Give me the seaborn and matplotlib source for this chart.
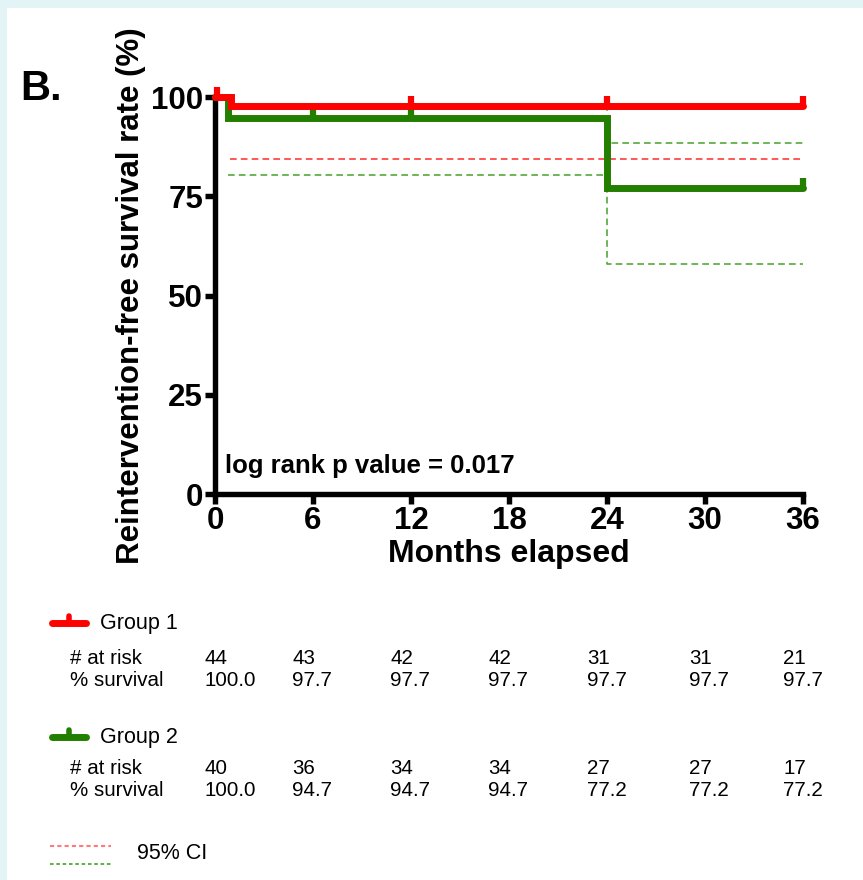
import numpy as np
import pandas as pd
import matplotlib
matplotlib.use("Agg")
import matplotlib.pyplot as plt
from matplotlib.patches import Rectangle
from matplotlib.lines import Line2D
import seaborn as sns

# ---------------- data ----------------
months_ticks = [0, 6, 12, 18, 24, 30, 36]
y_ticks = [0, 25, 50, 75, 100]

g1_time = [0, 1.0, 36]
g1_surv = [100.0, 97.7, 97.7]
g1_cens_t = [0.15, 12, 24, 36]
g1_cens_s = [100.0, 97.7, 97.7, 97.7]
g1_ci_time = [0.9, 36]
g1_ci_low = [84.5, 84.5]

g2_time = [0, 0.8, 24, 36]
g2_surv = [100.0, 94.7, 77.2, 77.2]
g2_cens_t = [6, 12, 36]
g2_cens_s = [94.7, 94.7, 77.2]
g2_ci_time = [0.8, 24, 36]
g2_ci_up = [98.3, 88.3, 88.3]
g2_ci_low = [80.4, 57.9, 57.9]

risk_cols = [0, 6, 12, 18, 24, 30, 36]
g1_at_risk = ["44", "43", "42", "42", "31", "31", "21"]
g1_pct = ["100.0", "97.7", "97.7", "97.7", "97.7", "97.7", "97.7"]
g2_at_risk = ["40", "36", "34", "34", "27", "27", "17"]
g2_pct = ["100.0", "94.7", "94.7", "94.7", "77.2", "77.2", "77.2"]

RED = "#ff0000"
GREEN = "#237f00"
RED_CI = "#ff3b3b"
GREEN_CI = "#55a83a"

sns.set_style("white")
plt.rcParams["font.family"] = ["Liberation Sans", "DejaVu Sans"]
plt.rcParams["text.color"] = "black"
plt.rcParams["axes.labelcolor"] = "black"
plt.rcParams["xtick.color"] = "black"
plt.rcParams["ytick.color"] = "black"

W, H = 863, 880
fig = plt.figure(figsize=(W / 100, H / 100), dpi=100)
fig.patch.set_facecolor("#e3f4f6")
fig.add_artist(Rectangle((7 / W, 0), 1 - 7 / W, 1 - 8 / H, transform=fig.transFigure,
                         facecolor="white", edgecolor="none", zorder=-10))

ax = fig.add_axes([215 / W, 1 - 494 / H, (803 - 215) / W, (494 - 97) / H])
ax.set_facecolor("none")

df1 = pd.DataFrame({"t": g1_time, "s": g1_surv})
df2 = pd.DataFrame({"t": g2_time, "s": g2_surv})
ci1 = pd.DataFrame({"t": g1_ci_time, "lo": g1_ci_low})
ci2 = pd.DataFrame({"t": g2_ci_time, "up": g2_ci_up, "lo": g2_ci_low})

# CI dashed lines
sns.lineplot(data=ci1, x="t", y="lo", ax=ax, color=RED_CI, lw=1.2, ls=(0, (4, 2.5)),
             drawstyle="steps-post", estimator=None, zorder=2)
sns.lineplot(data=ci2, x="t", y="up", ax=ax, color=GREEN_CI, lw=1.2, ls=(0, (4, 2.5)),
             drawstyle="steps-post", estimator=None, zorder=2)
sns.lineplot(data=ci2, x="t", y="lo", ax=ax, color=GREEN_CI, lw=1.2, ls=(0, (4, 2.5)),
             drawstyle="steps-post", estimator=None, zorder=2)

# survival curves
sns.lineplot(data=df2, x="t", y="s", ax=ax, color=GREEN, lw=5, drawstyle="steps-post",
             estimator=None, zorder=3, clip_on=False, solid_joinstyle="miter")
sns.lineplot(data=df1, x="t", y="s", ax=ax, color=RED, lw=5, drawstyle="steps-post",
             estimator=None, zorder=4, clip_on=False, solid_joinstyle="miter")

# censor ticks
ax.plot(g2_cens_t, g2_cens_s, ls="none", marker=2, ms=7, mew=4.5, color=GREEN, zorder=3, clip_on=False)
ax.plot(g1_cens_t, g1_cens_s, ls="none", marker=2, ms=7, mew=4.5, color=RED, zorder=4, clip_on=False)

ax.set_xlim(0, 36)
ax.set_ylim(0, 100)
ax.set_xticks(months_ticks)
ax.set_yticks(y_ticks)
ax.set_xticklabels([str(m) for m in months_ticks], fontsize=22.5, fontweight="bold")
ax.set_yticklabels([str(v) for v in y_ticks], fontsize=22.5, fontweight="bold")
for s in ["top", "right"]:
    ax.spines[s].set_visible(False)
for s in ["left", "bottom"]:
    ax.spines[s].set_linewidth(3.9)
    ax.spines[s].set_color("black")
    ax.spines[s].set_capstyle("projecting")
ax.tick_params(axis="both", which="both", direction="out", length=7, width=3.9,
               color="black", pad=1.5, left=True, bottom=True)
ax.set_xlabel("Months elapsed", fontsize=23, fontweight="bold", labelpad=2)
ax.set_ylabel("Reintervention-free survival rate (%)", fontsize=22.5, fontweight="bold", labelpad=4)
ax.text(0.6, 7, "log rank p value = 0.017", fontsize=18.5, fontweight="bold", ha="left", va="center")

fig.text(20 / W, 1 - 89 / H, "B.", fontsize=30, fontweight="bold", ha="left", va="center")

# --------- risk table ----------
col_x = [204, 292, 390, 488, 587, 689, 783]

def fx(px):
    return px / W

def fy(py):
    return 1 - py / H

def legend_sample(y, color):
    fig.add_artist(Line2D([fx(52), fx(86)], [fy(y), fy(y)], color=color, lw=5,
                          solid_capstyle="round", transform=fig.transFigure))
    fig.add_artist(Line2D([fx(69), fx(69)], [fy(y), fy(y - 7)], color=color, lw=4,
                          transform=fig.transFigure))

FS = 14.8
legend_sample(623, RED)
fig.text(fx(100), fy(623), "Group 1", fontsize=15.5, ha="left", va="center")
fig.text(fx(70), fy(658), "# at risk", fontsize=FS, ha="left", va="center")
fig.text(fx(70), fy(681), "% survival", fontsize=FS, ha="left", va="center")
for x, a, p in zip(col_x, g1_at_risk, g1_pct):
    fig.text(fx(x), fy(658), a, fontsize=FS, ha="left", va="center")
    fig.text(fx(x), fy(681), p, fontsize=FS, ha="left", va="center")

legend_sample(737, GREEN)
fig.text(fx(100), fy(737), "Group 2", fontsize=15.5, ha="left", va="center")
fig.text(fx(70), fy(768), "# at risk", fontsize=FS, ha="left", va="center")
fig.text(fx(70), fy(791), "% survival", fontsize=FS, ha="left", va="center")
for x, a, p in zip(col_x, g2_at_risk, g2_pct):
    fig.text(fx(x), fy(768), a, fontsize=FS, ha="left", va="center")
    fig.text(fx(x), fy(791), p, fontsize=FS, ha="left", va="center")

fig.add_artist(Line2D([fx(50), fx(111)], [fy(846), fy(846)], color="#ff7b7b", lw=1.5,
                      ls=(0, (2, 1.5)), transform=fig.transFigure))
fig.add_artist(Line2D([fx(50), fx(111)], [fy(864), fy(864)], color=GREEN_CI, lw=1.3,
                      ls=(0, (2, 1.5)), transform=fig.transFigure))
fig.text(fx(137), fy(853), "95% CI", fontsize=15.5, ha="left", va="center")

fig.savefig("out.png", dpi=100, facecolor=fig.get_facecolor())
